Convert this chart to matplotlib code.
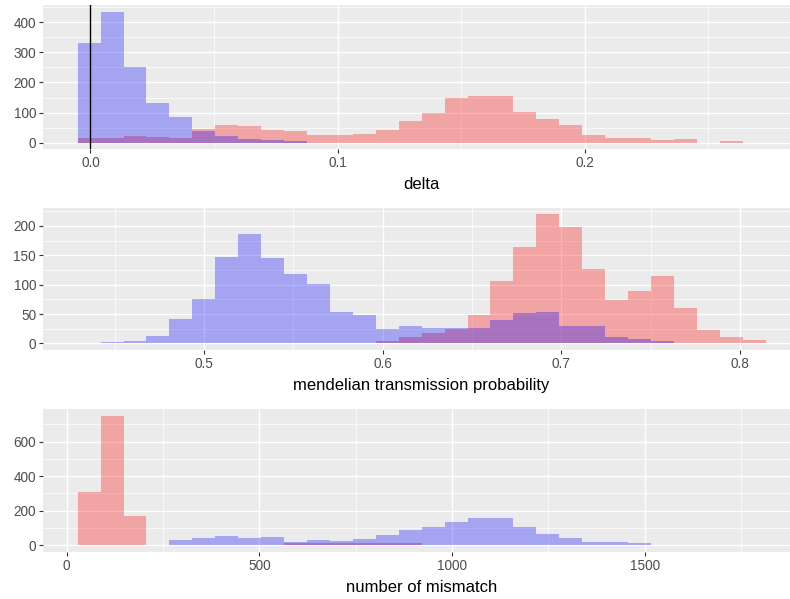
import numpy as np
import matplotlib
matplotlib.use('Agg')
import matplotlib.pyplot as plt

plt.rcParams['font.family'] = ['Liberation Sans', 'DejaVu Sans']

# histogram bins (30 per panel): first edge and bin width
delta_start, delta_width = -0.00518, 0.009283
delta_blue = [330, 435, 250, 132, 84, 38, 22, 12, 8, 6, 0, 0, 0, 0, 0,
              0, 0, 0, 0, 0, 0, 0, 0, 0, 0, 0, 0, 0, 0, 0]
delta_red = [15, 15, 23, 19, 16, 44, 60, 56, 42, 38, 25, 26, 30, 42, 73,
             98, 147, 155, 155, 102, 80, 60, 26, 16, 16, 8, 12, 0, 7, 0]

mtp_start, mtp_width = 0.42932, 0.012832
mtp_blue = [0, 2, 4, 12, 41, 75, 148, 187, 146, 119, 101, 53, 48, 24, 30,
            26, 26, 27, 39, 51, 53, 30, 30, 10, 8, 4, 0, 0, 0, 0]
mtp_red = [0, 0, 0, 0, 0, 0, 0, 0, 0, 0, 0, 0, 0, 4, 10,
           18, 24, 49, 107, 165, 220, 199, 127, 74, 89, 114, 61, 23, 10, 6]

mm_start, mm_width = 28.5, 59.5
mm_blue = [0, 0, 0, 0, 28, 41, 54, 41, 48, 19, 28, 21, 33, 61, 89,
           102, 132, 155, 155, 103, 62, 43, 15, 15, 10, 0, 0, 0, 0, 0]
mm_red = [306, 751, 168, 0, 0, 0, 0, 0, 0, 10, 10, 14, 12, 10, 10,
          0, 0, 0, 0, 0, 0, 0, 0, 0, 0, 0, 0, 0, 0, 0]

panels = [
    dict(start=delta_start, width=delta_width, blue=delta_blue, red=delta_red,
         xlabel='delta', xmajor=[0.0, 0.1, 0.2], xminor=[0.05, 0.15, 0.25],
         xfmt='{:.1f}', ymajor=[0, 100, 200, 300, 400], yminor=[50, 150, 250, 350, 450],
         vline=0.0, px=(5.2, 149.2)),
    dict(start=mtp_start, width=mtp_width, blue=mtp_blue, red=mtp_red,
         xlabel='mendelian transmission probability', xmajor=[0.5, 0.6, 0.7, 0.8],
         xminor=[0.45, 0.55, 0.65, 0.75], xfmt='{:.1f}',
         ymajor=[0, 50, 100, 150, 200], yminor=[25, 75, 125, 175, 225],
         vline=None, px=(207.8, 349.8)),
    dict(start=mm_start, width=mm_width, blue=mm_blue, red=mm_red,
         xlabel='number of mismatch', xmajor=[0, 500, 1000, 1500],
         xminor=[250, 750, 1250, 1750], xfmt='{:.0f}',
         ymajor=[0, 200, 400, 600], yminor=[100, 300, 500, 700],
         vline=None, px=(409.2, 551.5)),
]

W, H = 790, 599
fig = plt.figure(figsize=(W / 100, H / 100), dpi=100)

left_px, right_px = 43.3, 800.0

for p in panels:
    top, bot = p['px']
    ax = fig.add_axes([left_px / W, 1 - bot / H, (right_px - left_px) / W, (bot - top) / H])
    ax.set_facecolor('#EBEBEB')
    for s in ax.spines.values():
        s.set_visible(False)

    n = len(p['blue'])
    edges = p['start'] + p['width'] * np.arange(n + 1)
    # one filled outline per group, so adjacent bins have no seams
    ax.stairs(p['red'], edges, fill=True, color='red', alpha=0.3,
              linewidth=0, zorder=2)
    ax.stairs(p['blue'], edges, fill=True, color='blue', alpha=0.3,
              linewidth=0, zorder=3)

    span = edges[-1] - edges[0]
    ax.set_xlim(edges[0] - 0.05 * span, edges[-1] + 0.05 * span)
    ymax = max(max(p['blue']), max(p['red']))
    ax.set_ylim(-0.05 * ymax, 1.05 * ymax)

    if p['vline'] is not None:
        ax.axvline(p['vline'], color='black', linewidth=1.0, zorder=4)

    ax.set_xticks(p['xmajor'])
    ax.set_xticklabels([p['xfmt'].format(v) for v in p['xmajor']])
    ax.set_xticks(p['xminor'], minor=True)
    ax.set_yticks(p['ymajor'])
    ax.set_yticks(p['yminor'], minor=True)
    ax.grid(which='major', color='white', linewidth=1.0, zorder=0)
    ax.grid(which='minor', color='white', linewidth=0.5, zorder=0)
    ax.set_axisbelow(True)
    ax.tick_params(which='major', length=2.7, width=0.8, color='#333333',
                   labelcolor='#4D4D4D', labelsize=9.8, pad=2.5)
    ax.tick_params(which='minor', length=0)

    fig.text((left_px + right_px) / 2 / W, 1 - (bot + 40) / H, p['xlabel'],
             ha='center', va='baseline', fontsize=12.0, color='black')

fig.savefig('out.png', dpi=100)
